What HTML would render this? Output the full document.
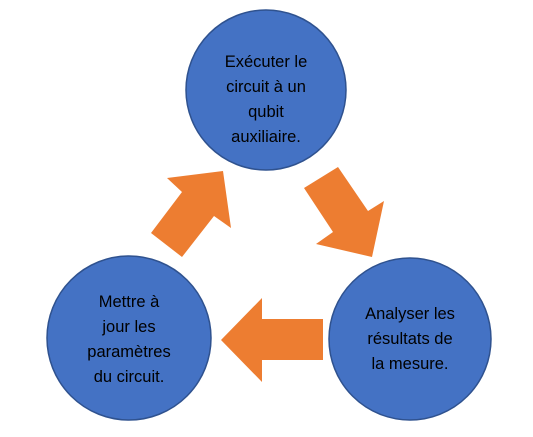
<!DOCTYPE html>
<html><head><style>
body{margin:0;width:533px;height:437px;background:#fff;overflow:hidden;position:relative;font-family:"Liberation Sans",sans-serif}
.t{position:absolute;width:160px;text-align:center;font-size:16.5px;line-height:25px;color:#000}
</style></head><body>
<svg width="533" height="437" style="position:absolute;left:0;top:0">
<g fill="#4472C4" stroke="#2F528F" stroke-width="1.5">
<circle cx="266" cy="90" r="80"/>
<circle cx="129" cy="338" r="82"/>
<circle cx="410" cy="339" r="81"/>
</g>
<g fill="#ED7D31">
<polygon points="223,171 231,228 214,216 182,257 151,233 182,192 167,178"/>
<polygon points="338,167 304,188 333,232 316,244 372,257 384,201 368,211"/>
<polygon points="221,340 262,298 262,319 323,319 323,360 262,360 262,382"/>
</g>
</svg>
<div class="t" style="left:186px;top:50px">Exécuter le<br>circuit à un<br>qubit<br>auxiliaire.</div>
<div class="t" style="left:49px;top:290px">Mettre à<br>jour les<br>paramètres<br>du circuit.</div>
<div class="t" style="left:330px;top:302px">Analyser les<br>résultats de<br>la mesure.</div>
</body></html>
